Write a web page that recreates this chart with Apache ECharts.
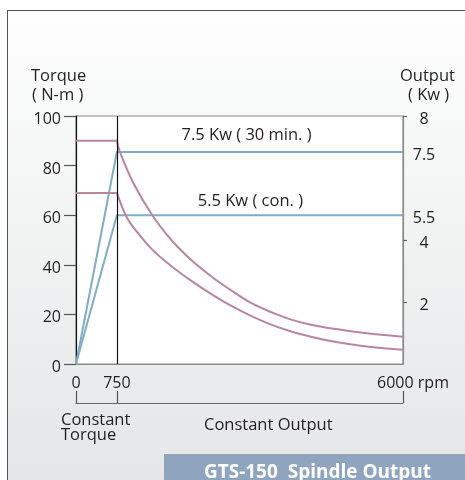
<!DOCTYPE html>
<html>
<head>
<meta charset="utf-8">
<script src="https://cdn.jsdelivr.net/npm/echarts@6/dist/echarts.min.js"></script>
<style>
  html, body { margin: 0; padding: 0; background: #ffffff; }
  #wrap { position: relative; width: 465px; height: 480px; overflow: hidden; background: #ffffff; }
  #frame { position: absolute; left: 7px; top: 10px; width: 470px; height: 480px;
           border-left: 1.5px solid #555; border-top: 1.5px solid #555;
           background: linear-gradient(to bottom, #fefefe 0%, #f3f4f4 40%, #e4e5e6 100%); }
  #chart { position: absolute; left: 0; top: 0; width: 465px; height: 480px; }
</style>
</head>
<body>
<div id="wrap">
  <div id="frame"></div>
  <div id="chart"></div>
</div>
<script>
// ---- data ----
const rpmTickValues = [0, 750, 6000];
const rpmTickLabels = ['0', '750', '6000 rpm'];
const rightTickValues = [8, 4, 2];
const rightLabelValues = [8, 6.84, 4.8, 4, 2];
const rightLabelTexts = ['8', '7.5', '5.5', '4', '2'];

// torque (N-m) vs rpm, 30-min rating
const torque30min = [[0, 90], [750, 90], [805, 85.5], [1040, 73.5], [1400, 60], [1770, 49.5],
  [2130, 41.6], [2490, 35.2], [2860, 29.5], [3220, 24.5], [3580, 20.9], [3950, 17.9],
  [4310, 15.8], [4670, 14.4], [5220, 12.7], [6000, 11]];
// torque (N-m) vs rpm, continuous rating
const torqueCon = [[0, 69], [750, 69], [910, 60], [1040, 55.5], [1400, 46.1], [1770, 39.1],
  [2130, 33.3], [2490, 28.1], [2860, 23.3], [3220, 19.3], [3580, 15.9], [3950, 13.1],
  [4310, 11], [4670, 9.3], [5220, 7.4], [6000, 5.7]];
// output lines (drawn on torque scale)
const output30min = [[0, 0], [750, 85.5], [6000, 85.5]];
const outputCon = [[0, 0], [750, 60], [6000, 60]];

const label30 = '7.5 Kw ( 30 min. )';
const labelCon = '5.5 Kw ( con. )';

const FONT = '"Open Sans", "Noto Sans", sans-serif';
const PINK = '#b8879f';
const BLUE = '#7eaec6';
const TXT = '#231f20';
const NUM = 16;
const TX = 16.5;

const chart = echarts.init(document.getElementById('chart'), null, { renderer: 'canvas' });

function lineSeries(data, color, smooth, extra) {
  return Object.assign({
    type: 'line', data: data, smooth: smooth, symbol: 'none', silent: true,
    lineStyle: { color: color, width: 2 }, xAxisIndex: 0, yAxisIndex: 0, animation: false
  }, extra || {});
}

const shifted = { s: { color: TXT, fontFamily: FONT, fontSize: NUM, padding: [7, 0, 0, 0] } };

const option = {
  backgroundColor: 'transparent',
  animation: false,
  grid: { left: 76, right: 62, top: 116, bottom: 116, show: true,
          backgroundColor: '#ffffff', borderColor: '#8a8a8a', borderWidth: 1.2 },
  xAxis: [
    { type: 'value', min: 0, max: 6000, position: 'bottom',
      axisLine: { show: true, onZero: false, lineStyle: { color: '#8a8a8a', width: 1.2 } },
      axisTick: { show: false },
      splitLine: { show: false },
      axisLabel: { customValues: rpmTickValues, margin: 11, color: TXT, fontFamily: FONT, fontSize: NUM,
        formatter: function (v) {
          const i = rpmTickValues.indexOf(v);
          const t = i >= 0 ? rpmTickLabels[i] : '';
          return v === 6000 ? '{r|' + t + '}' : t;
        },
        rich: { r: { color: TXT, fontFamily: FONT, fontSize: NUM, padding: [0, 0, 0, 20] } } } },
    { type: 'value', min: 0, max: 6000, position: 'bottom', offset: 39,
      axisLine: { show: true, onZero: false, lineStyle: { color: '#666', width: 1.2 } },
      axisTick: { show: true, inside: true, length: 12, customValues: rpmTickValues,
                  lineStyle: { color: '#555', width: 1.2 } },
      axisLabel: { show: false }, splitLine: { show: false } }
  ],
  yAxis: [
    { type: 'value', min: 0, max: 100, interval: 20, position: 'left',
      axisLine: { show: true, onZero: false, lineStyle: { color: '#111', width: 1.2 } },
      axisTick: { show: true, length: 12, lineStyle: { color: '#555', width: 1.2 } },
      splitLine: { show: false },
      axisLabel: { margin: 15, color: TXT, fontFamily: FONT, fontSize: NUM,
        formatter: function (v) { return '{s|' + v + '}'; }, rich: shifted } },
    { type: 'value', min: 0, max: 8, position: 'right',
      axisLine: { show: true, onZero: false, lineStyle: { color: '#8a8a8a', width: 1.2 } },
      axisTick: { show: true, length: 4, customValues: rightTickValues,
                  lineStyle: { color: '#666', width: 1.2 } },
      splitLine: { show: false },
      axisLabel: { customValues: rightLabelValues, margin: 21, align: 'center',
        color: TXT, fontFamily: FONT, fontSize: NUM, rich: shifted,
        formatter: function (v) {
          const i = rightLabelValues.indexOf(v);
          return i >= 0 ? '{s|' + rightLabelTexts[i] + '}' : '';
        } } }
  ],
  series: [
    lineSeries(output30min, BLUE, false, {
      markLine: { silent: true, symbol: 'none', label: { show: false },
        lineStyle: { color: '#111', width: 1.2, type: 'solid' },
        data: [{ xAxis: 750 }] },
      markPoint: { symbol: 'circle', symbolSize: 0, silent: true,
        data: [{ coord: [3130, 85.5], value: 0 }],
        label: { show: true, position: 'top', distance: 8, formatter: label30,
                 color: TXT, fontFamily: FONT, fontSize: TX } } }),
    lineSeries(outputCon, BLUE, false, {
      markPoint: { symbol: 'circle', symbolSize: 0, silent: true,
        data: [{ coord: [3200, 60], value: 0 }],
        label: { show: true, position: 'top', distance: 5, formatter: labelCon,
                 color: TXT, fontFamily: FONT, fontSize: TX } } }),
    lineSeries(torque30min.slice(0, 2), PINK, false),
    lineSeries(torque30min.slice(1), PINK, 0.35),
    lineSeries(torqueCon.slice(0, 2), PINK, false),
    lineSeries(torqueCon.slice(1), PINK, 0.35)
  ],
  graphic: [
    { type: 'text', left: 31, top: 68, style: { text: 'Torque', font: TX + 'px ' + FONT, fill: TXT } },
    { type: 'text', left: 32, top: 87, style: { text: '( N-m )', font: TX + 'px ' + FONT, fill: TXT } },
    { type: 'text', left: 400, top: 68, style: { text: 'Output', font: TX + 'px ' + FONT, fill: TXT } },
    { type: 'text', left: 408, top: 87, style: { text: '( Kw )', font: TX + 'px ' + FONT, fill: TXT } },
    { type: 'text', left: 61, top: 412, style: { text: 'Constant', font: TX + 'px ' + FONT, fill: TXT } },
    { type: 'text', left: 61, top: 427, style: { text: 'Torque', font: TX + 'px ' + FONT, fill: TXT } },
    { type: 'text', left: 204, top: 417, style: { text: 'Constant Output', font: TX + 'px ' + FONT, fill: TXT } },
    { type: 'rect', shape: { x: 164, y: 454, width: 320, height: 40 }, style: { fill: '#8fa5bf' } },
    { type: 'text', x: 317.5, y: 472.5, style: { text: 'GTS-150  Spindle Output', font: 'bold 19px ' + FONT,
      fill: '#ffffff', align: 'center', verticalAlign: 'middle' } }
  ]
};
chart.setOption(option);
</script>
</body>
</html>
